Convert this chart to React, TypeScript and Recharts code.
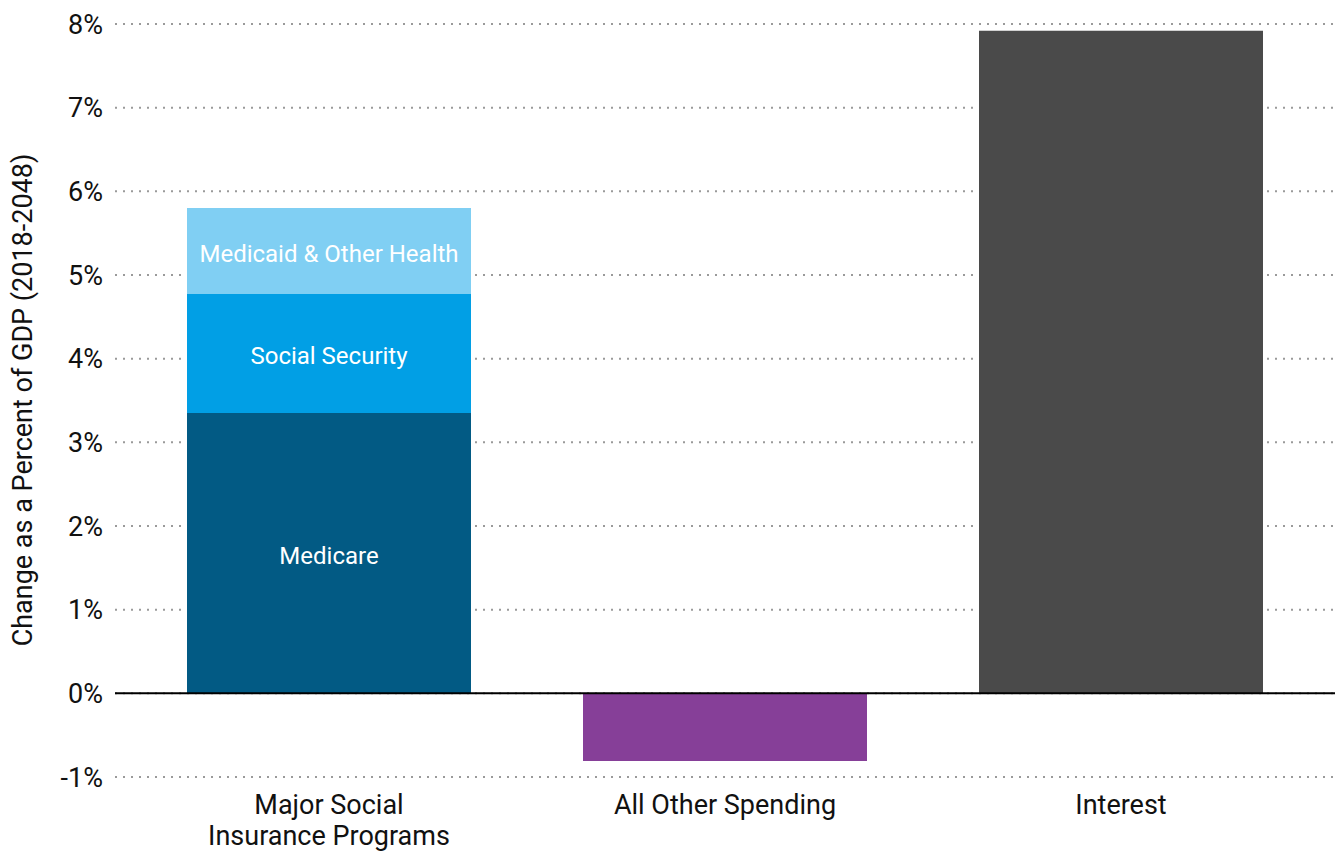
import React from "react";
import {
  BarChart,
  Bar,
  XAxis,
  YAxis,
  CartesianGrid,
  ReferenceLine,
  LabelList,
} from "recharts";

const categories = ["Major Social\nInsurance Programs", "All Other Spending", "Interest"];
const medicare = [3.35, null, null];
const socialSecurity = [1.43, null, null];
const medicaidOther = [1.02, null, null];
const allOther = [null, -0.81, null];
const interest = [null, null, 7.92];
const yTicks = [-1, 0, 1, 2, 3, 4, 5, 6, 7, 8];

const data = categories.map((c, i) => ({
  name: c,
  medicare: medicare[i],
  socialSecurity: socialSecurity[i],
  medicaidOther: medicaidOther[i],
  allOther: allOther[i],
  interest: interest[i],
}));

const FONT = "Roboto, 'Noto Sans', sans-serif";

const makeLabel = (text: string) => (props: any) => {
  const { x, y, width, height, value } = props;
  if (value === null || value === undefined) return null;
  return (
    <text
      x={x + width / 2}
      y={y + height / 2 + 3}
      fill="#ffffff"
      fontSize={24}
      fontFamily={FONT}
      textAnchor="middle"
      dominantBaseline="central"
    >
      {text}
    </text>
  );
};

const XTick = (props: any) => {
  const { x, y, payload } = props;
  const lines = String(payload.value).split("\n");
  return (
    <text x={x} y={y} fill="#111" fontSize={27} fontFamily={FONT} textAnchor="middle">
      {lines.map((l, i) => (
        <tspan key={i} x={x} dy={i === 0 ? 29 : 31}>
          {l}
        </tspan>
      ))}
    </text>
  );
};

export default function App() {
  return (
    <div style={{ position: "absolute", left: 0, top: 0, width: 1335, height: 851, background: "#fff" }}>
      <BarChart
        width={1335}
        height={851}
        data={data}
        margin={{ top: 24, right: 0, bottom: 0, left: 0 }}
        barSize={284}
      >
        <CartesianGrid
          vertical={false}
          stroke="#9a9a9a"
          strokeWidth={2}
          strokeDasharray="2 6"
        />
        <XAxis
          dataKey="name"
          axisLine={false}
          tickLine={false}
          padding={{ left: 16, right: 16 }}
          tick={<XTick />}
          interval={0}
          height={74}
        />
        <YAxis
          width={115}
          domain={[-1, 8]}
          ticks={yTicks}
          interval={0}
          axisLine={false}
          tickLine={false}
          tickMargin={6}
          tickFormatter={(v: number) => `${v}%`}
          tick={{ fill: "#111", fontSize: 27, fontFamily: FONT }}
          label={{
            content: () => (
              <text
                x={23}
                y={400}
                transform="rotate(-90, 23, 400)"
                textAnchor="middle"
                dominantBaseline="central"
                fill="#111"
                fontSize={27}
                fontFamily={FONT}
              >
                Change as a Percent of GDP (2018-2048)
              </text>
            ),
          }}
        />
        <Bar dataKey="medicare" stackId="a" fill="#025a84" isAnimationActive={false}>
          <LabelList dataKey="medicare" content={makeLabel("Medicare")} />
        </Bar>
        <Bar dataKey="socialSecurity" stackId="a" fill="#019fe5" isAnimationActive={false}>
          <LabelList dataKey="socialSecurity" content={makeLabel("Social Security")} />
        </Bar>
        <Bar dataKey="medicaidOther" stackId="a" fill="#80cff3" isAnimationActive={false}>
          <LabelList dataKey="medicaidOther" content={makeLabel("Medicaid & Other Health")} />
        </Bar>
        <Bar dataKey="allOther" stackId="a" fill="#863f98" isAnimationActive={false} />
        <Bar dataKey="interest" stackId="a" fill="#4a4a4a" isAnimationActive={false} />
        <ReferenceLine y={0} stroke="#000" strokeWidth={2} />
      </BarChart>
    </div>
  );
}
